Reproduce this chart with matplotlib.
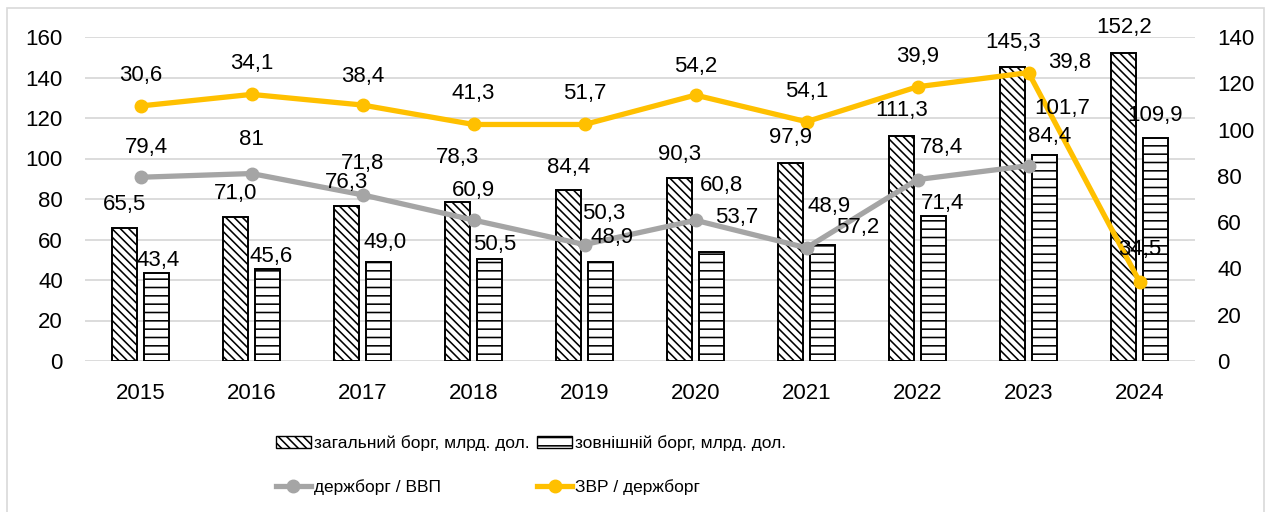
import numpy as np
import matplotlib
matplotlib.use("Agg")
import matplotlib.pyplot as plt
from matplotlib.patches import Patch, Rectangle
from matplotlib.lines import Line2D

# ---------------- data ----------------
years = ["2015", "2016", "2017", "2018", "2019", "2020", "2021", "2022", "2023", "2024"]
total_debt = [65.5, 71.0, 76.3, 78.3, 84.4, 90.3, 97.9, 111.3, 145.3, 152.2]
external_debt = [43.4, 45.6, 49.0, 50.5, 48.9, 53.7, 57.2, 71.4, 101.7, 109.9]
debt_to_gdp = [79.4, 81, 71.8, 60.9, 50.3, 60.8, 48.9, 78.4, 84.4, np.nan]
reserves_to_debt = [110.2, 115.2, 110.6, 102.2, 102.2, 114.9, 103.4, 118.5, 124.6, 34.3]
reserves_to_debt_labels = ["30,6", "34,1", "38,4", "41,3", "51,7", "54,2", "54,1", "39,9", "39,8", "34,5"]

series_names = ["загальний борг, млрд. дол.", "зовнішній борг, млрд. дол.",
                "держборг / ВВП", "ЗВР / держборг"]

# ---------------- label offsets (pixels) ----------------
total_off = [(0, 24), (0, 24), (0, 24), (0, 45), (0, 23), (0, 24), (0, 25), (0, 25), (0, 24), (0, 25)]
ext_off = [(2, 13), (4, 12), (7, 19), (6, 14), (12, 24), (26, 35), (36, 18), (10, 13), (18, 47), (0, 23)]
gdp_off = [(6, 30), (0, 34), (0, 31), (0, 30), (19, 31), (26, 35), (23, 41), (24, 32), (21, 29), (0, 0)]
res_off = [(0, 30), (0, 31), (0, 29), (0, 31), (0, 31), (0, 29), (0, 30), (0, 30), (41, 10), (0, 32)]

FONT = ["Liberation Sans", "DejaVu Sans"]
plt.rcParams["font.family"] = FONT
plt.rcParams["hatch.linewidth"] = 1.15
FS = 16

W, H = 1272, 512
fig = plt.figure(figsize=(W / 100, H / 100), dpi=100)
ax = fig.add_axes([85 / W, 1 - 361 / H, (1195 - 85) / W, (361 - 37) / H])
ax2 = ax.twinx()

x = np.arange(len(years))
bw = 0.225
off = 0.14
grid_c = "#d9d9d9"
gray = "#a5a5a5"
gold = "#ffc000"

ax.set_axisbelow(True)
ax.yaxis.grid(True, color=grid_c, linewidth=1.3)
b1 = ax.bar(x - off, total_debt, bw, facecolor="white", edgecolor="black",
            linewidth=1.4, hatch="\\\\\\\\", zorder=2)
b2 = ax.bar(x + off, external_debt, bw, facecolor="white", edgecolor="black",
            linewidth=1.4, hatch="--", zorder=2)

ax2.plot(x, debt_to_gdp, color=gray, linewidth=3.8, marker="o", markersize=9, zorder=3)
ax2.plot(x, reserves_to_debt, color=gold, linewidth=3.8, marker="o", markersize=9, zorder=4)

ax.set_xlim(-0.5, len(years) - 0.5)
ax.set_ylim(0, 160)
ax2.set_ylim(0, 140)
ax.set_yticks(range(0, 161, 20))
ax2.set_yticks(range(0, 141, 20))
ax.set_xticks(x)
ax.set_xticklabels(years)
for a in (ax, ax2):
    for s in a.spines.values():
        s.set_visible(False)
ax.tick_params(axis="y", length=0, pad=16, labelsize=FS)
ax.tick_params(axis="x", length=0, pad=16, labelsize=FS)
ax2.tick_params(axis="y", length=0, pad=16, labelsize=FS)
ax2.yaxis.grid(False)

def fmt1(v):
    return f"{v:.1f}".replace(".", ",")

def fmtg(v):
    return f"{v:g}".replace(".", ",")

for i in range(len(years)):
    ax2.annotate(fmt1(total_debt[i]), xy=(x[i] - off, total_debt[i]), xycoords=ax.transData,
                 xytext=total_off[i], textcoords="offset pixels", ha="center", va="center",
                 fontsize=FS, zorder=6)
    ax2.annotate(fmt1(external_debt[i]), xy=(x[i] + off, external_debt[i]), xycoords=ax.transData,
                 xytext=ext_off[i], textcoords="offset pixels", ha="center", va="center",
                 fontsize=FS, zorder=6)
    if not np.isnan(debt_to_gdp[i]):
        ax2.annotate(fmtg(debt_to_gdp[i]), xy=(x[i], debt_to_gdp[i]),
                     xytext=gdp_off[i], textcoords="offset pixels", ha="center", va="center",
                     fontsize=FS, zorder=6)
    ax2.annotate(reserves_to_debt_labels[i], xy=(x[i], reserves_to_debt[i]),
                 xytext=res_off[i], textcoords="offset pixels", ha="center", va="center",
                 fontsize=FS, zorder=6)

# legend
h_total = Patch(facecolor="white", edgecolor="black", hatch="\\\\\\\\", linewidth=1.0)
h_ext = Patch(facecolor="white", edgecolor="black", hatch="--", linewidth=1.0)
h_gdp = Line2D([], [], color=gray, linewidth=3.8, marker="o", markersize=9)
h_res = Line2D([], [], color=gold, linewidth=3.8, marker="o", markersize=9)
leg = fig.legend([h_total, h_gdp, h_ext, h_res],
                 [series_names[0], series_names[2], series_names[1], series_names[3]],
                 ncol=2, loc="center", bbox_to_anchor=(531 / W, 1 - 465 / H),
                 bbox_transform=fig.transFigure, frameon=False, borderpad=0,
                 handlelength=2.0, handleheight=0.6, handletextpad=0.17,
                 columnspacing=0.45, labelspacing=1.6,
                 prop={"family": ["Liberation Sans"], "size": 12.5})

# outer frame
fig.patches.append(Rectangle((7 / W, -0.02), (W - 8 - 7) / W, 1 - 8 / H + 0.02,
                             transform=fig.transFigure, fill=False,
                             edgecolor=grid_c, linewidth=1.2, zorder=0))

fig.savefig("out.png", dpi=100)
